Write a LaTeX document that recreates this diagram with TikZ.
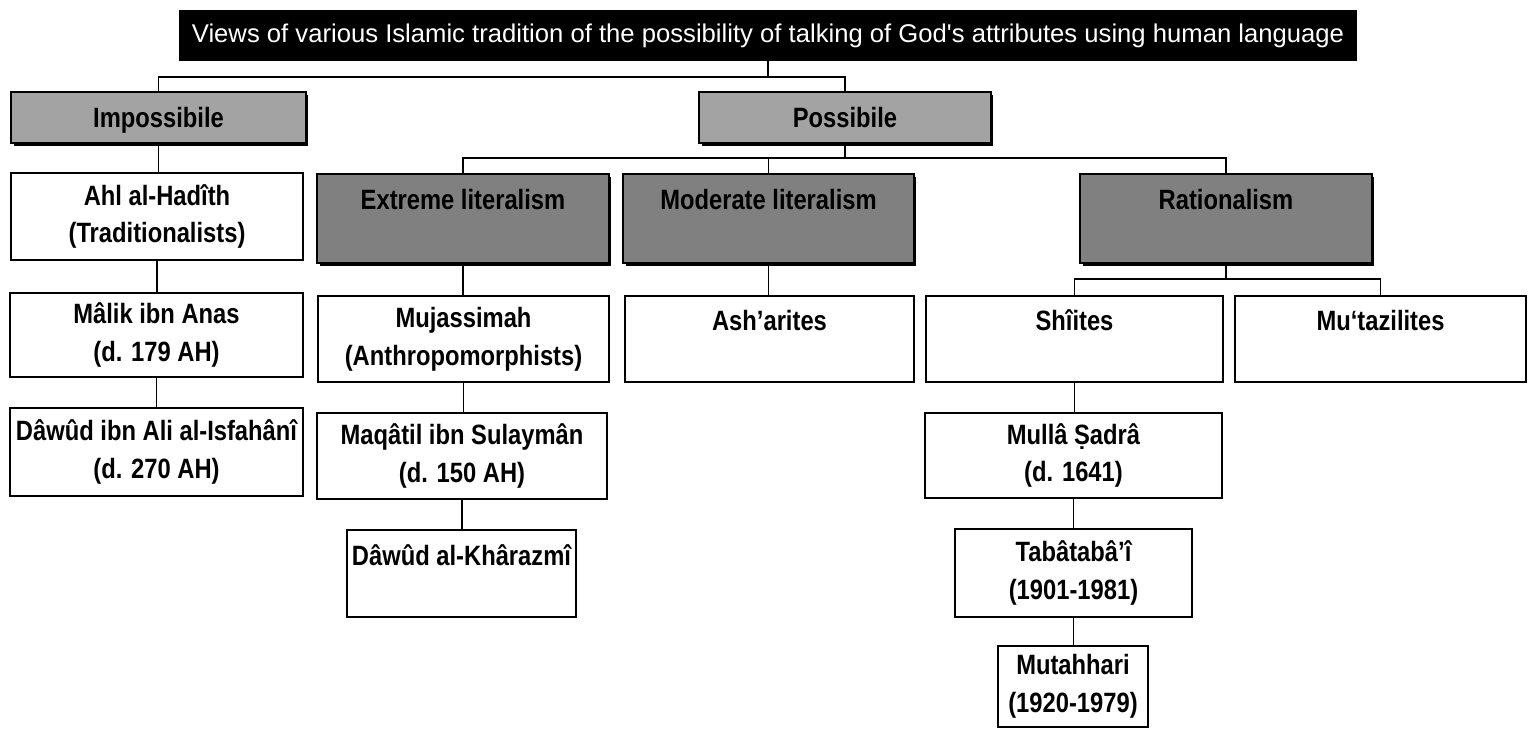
\documentclass[tikz,border=0pt]{standalone}
\usepackage{fontspec}
\usepackage{tikz}
\usetikzlibrary{shadows}

\newfontfamily\labelfont{Liberation Sans}[FakeStretch=0.85]
\newfontfamily\titlefont{Liberation Sans}

\begin{document}
\begin{tikzpicture}[
        x=0.02cm, y=-0.02cm,
        heading/.style={
            fill=black,
            text=white,
            minimum width=23.56cm,
            minimum height=1.02cm,
            font=\titlefont\fontsize{14.6}{17}\selectfont
        },
        whitebox/.style={
            draw,
            line width=1.1pt,
            fill=white,
            inner sep=1pt,
            align=center,
            font=\labelfont\bfseries\fontsize{15.9}{21.5}\selectfont
        },
        lightbox/.style={
            whitebox,
            fill=black!36,
            drop shadow={shadow xshift=0.05cm, shadow yshift=-0.05cm, fill=black, opacity=1}
        },
        darkbox/.style={
            lightbox,
            fill=black!50
        },
        link/.style={
            line width=0.8pt
        }
    ]
        \useasboundingbox (0,0) rectangle (1528,728);

        % Title
        \node[heading] (title) at (768,35.5) {Views of various Islamic tradition of the possibility of talking of God's attributes using human language};

        % Impossible / possible
        \node[lightbox, minimum width=5.9cm, minimum height=1.02cm, text depth=0pt] (imp) at (158.5,117.5) {Impossibile};
        \node[lightbox, minimum width=5.84cm, minimum height=1.02cm, text depth=0pt] (pos) at (845,117.5) {Possibile};

        % Schools
        \node[darkbox, minimum width=5.84cm, minimum height=1.78cm] (ext) at (463,218.5) {Extreme literalism\\ \mbox{}};
        \node[darkbox, minimum width=5.82cm, minimum height=1.78cm] (mod) at (768.5,218.5) {Moderate literalism\\ \mbox{}};
        \node[darkbox, minimum width=5.84cm, minimum height=1.78cm] (rat) at (1226,218.5) {Rationalism\\ \mbox{}};

        % Traditionalists
        \node[whitebox, minimum width=5.84cm, minimum height=1.74cm] (ahl) at (157,216.5) {Ahl al-Hadîth\\(Traditionalists)};
        \node[whitebox, minimum width=5.86cm, minimum height=1.68cm] (malik) at (156.5,335) {Mâlik ibn Anas\\(d. 179 AH)};
        \node[whitebox, minimum width=5.86cm, minimum height=1.76cm] (dawud) at (156.5,452) {Dâwûd ibn Ali al-Isfahânî\\(d. 270 AH)};

        % Extreme literalism
        \node[whitebox, minimum width=5.82cm, minimum height=1.72cm] (muj) at (463.5,339) {Mujassimah\\(Anthropomorphists)};
        \node[whitebox, minimum width=5.8cm, minimum height=1.72cm] (maq) at (462,456) {Maqâtil ibn Sulaymân\\(d. 150 AH)};
        \node[whitebox, minimum width=4.58cm, minimum height=1.74cm] (khar) at (461.5,573.5) {Dâwûd al-Khârazmî\\ \mbox{}};

        % Moderate literalism
        \node[whitebox, minimum width=5.78cm, minimum height=1.72cm] (ash) at (769.5,339) {Ash’arites\\ \mbox{}};

        % Rationalism
        \node[whitebox, minimum width=5.94cm, minimum height=1.72cm] (shi) at (1074.5,339) {Shîites\\ \mbox{}};
        \node[whitebox, minimum width=5.82cm, minimum height=1.72cm] (mut) at (1380.5,339) {Mu‘tazilites\\ \mbox{}};
        \node[whitebox, minimum width=5.94cm, minimum height=1.7cm] (mulla) at (1073.5,455.5) {Mullâ Ṣadrâ\\(d. 1641)};
        \node[whitebox, minimum width=4.74cm, minimum height=1.76cm] (taba) at (1073.5,573) {Tabâtabâ’î\\(1901-1981)};
        \node[whitebox, minimum width=3.0cm, minimum height=1.62cm] (muta) at (1073,686.5) {Mutahhari\\(1920-1979)};

        % Bus lines
        \coordinate (bus0) at (0,77);
        \coordinate (bus1) at (0,158);
        \coordinate (bus2) at (0,279);

        % Connectors
        \draw[link] (title.south) -- (title.south |- bus0);
        \draw[link] (imp.north) -- (imp.north |- bus0) -- (pos.north |- bus0) -- (pos.north);
        \draw[link] (pos.south) -- (pos.south |- bus1);
        \draw[link] (ext.north) -- (ext.north |- bus1) -- (rat.north |- bus1) -- (rat.north);
        \draw[link] (mod.north) -- (mod.north |- bus1);
        \draw[link] (rat.south) -- (rat.south |- bus2);
        \draw[link] (shi.north) -- (shi.north |- bus2) -- (mut.north |- bus2) -- (mut.north);

        \draw[link] (imp.south) -- (imp.south |- ahl.north);
        \draw[link] (ahl.south) -- (ahl.south |- malik.north);
        \draw[link] (malik.south) -- (malik.south |- dawud.north);
        \draw[link] (ext.south) -- (ext.south |- muj.north);
        \draw[link] (muj.south) -- (muj.south |- maq.north);
        \draw[link] (maq.south) -- (maq.south |- khar.north);
        \draw[link] (mod.south) -- (mod.south |- ash.north);
        \draw[link] (shi.south) -- (shi.south |- mulla.north);
        \draw[link] (mulla.south) -- (mulla.south |- taba.north);
        \draw[link] (taba.south) -- (taba.south |- muta.north);

    \end{tikzpicture}
\end{document}
